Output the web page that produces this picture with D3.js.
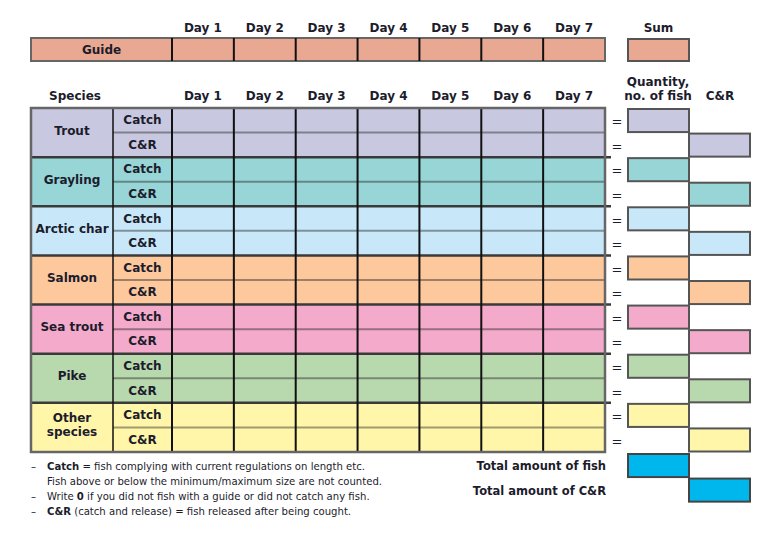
<!DOCTYPE html>
<html><head><meta charset="utf-8">
<script src="https://cdn.jsdelivr.net/npm/d3@7"></script>
<style>
html,body{margin:0;padding:0;background:#fff;}
svg{display:block;font-family:"DejaVu Sans",Verdana,sans-serif;}
</style></head>
<body><svg id="c" width="783" height="551"></svg>
<script>
const days = ["Day 1","Day 2","Day 3","Day 4","Day 5","Day 6","Day 7"];
const species = ["Trout","Grayling","Arctic char","Salmon","Sea trout","Pike","Other species"];
const speciesColors = ["#c9c8e1","#97d5d6","#c8e8fa","#fdc89c","#f4aacb","#b8d9ae","#fff6aa"];
const rowTypes = ["Catch","C&R"];
const guideColor = "#e9a891";
const totalColor = "#00b7ed";
const notes = [
  [{b:"Catch"},{t:" = fish complying with current regulations on length etc."}],
  [{t:"Fish above or below the minimum/maximum size are not counted."}],
  [{t:"Write "},{b:"0"},{t:" if you did not fish with a guide or did not catch any fish."}],
  [{b:"C&R"},{t:" (catch and release) = fish released after being cought."}]
];
const totals = ["Total amount of fish","Total amount of C&R"];

const svg = d3.select("#c");
const ink = "#1c1c2c";
const X0 = 31, XS = 113, XD = 172, XE = 605;
const x = d3.scaleBand().domain(days).range([XD, XE]);
const qX = d3.scaleBand().domain(["qty","cr"]).range([628, 750]);

// ---- Guide row ----
const gy0 = 38, gy1 = 61;
svg.selectAll("text.dh1").data(days).join("text")
  .attr("x", d => x(d) + x.bandwidth()/2).attr("y", 32)
  .attr("text-anchor","middle").attr("font-weight","bold").attr("font-size",12).attr("fill",ink).text(d=>d);
svg.append("text").attr("x", qX("qty")+qX.bandwidth()/2).attr("y",32).attr("text-anchor","middle")
  .attr("font-weight","bold").attr("font-size",12).attr("fill",ink).text("Sum");
svg.append("rect").attr("x",X0).attr("y",gy0).attr("width",XE-X0).attr("height",gy1-gy0)
  .attr("fill",guideColor).attr("stroke","#666").attr("stroke-width",2);
svg.selectAll("line.gv").data(days).join("line")
  .attr("x1",d=>x(d)).attr("x2",d=>x(d)).attr("y1",gy0).attr("y2",gy1)
  .attr("stroke","#111").attr("stroke-width",2);
svg.append("text").attr("x",(X0+XD)/2).attr("y",(gy0+gy1)/2+4.5).attr("text-anchor","middle")
  .attr("font-weight","bold").attr("font-size",12).attr("fill",ink).text("Guide");
svg.append("rect").attr("x",qX("qty")).attr("y",gy0+1).attr("width",qX.bandwidth()).attr("height",gy1-gy0-1)
  .attr("fill",guideColor).attr("stroke","#555").attr("stroke-width",2);

// ---- Species table ----
const ty0 = 108, ty1 = 452;
const rows = [];
species.forEach((s,i)=>rowTypes.forEach(r=>rows.push({s, r, i, key:s+"|"+r})));
const y = d3.scaleBand().domain(rows.map(d=>d.key)).range([ty0, ty1]);
const yS = d3.scaleBand().domain(species).range([ty0, ty1]);
const color = d3.scaleOrdinal().domain(species).range(speciesColors);

// headers
svg.selectAll("text.dh2").data(days).join("text")
  .attr("x", d => x(d) + x.bandwidth()/2).attr("y", 100)
  .attr("text-anchor","middle").attr("font-weight","bold").attr("font-size",12).attr("fill",ink).text(d=>d);
svg.append("text").attr("x",75).attr("y",100).attr("text-anchor","middle")
  .attr("font-weight","bold").attr("font-size",12).attr("fill",ink).text("Species");
svg.append("text").attr("x",658).attr("y",86).attr("text-anchor","middle")
  .attr("font-weight","bold").attr("font-size",12).attr("fill",ink).text("Quantity,");
svg.append("text").attr("x",658).attr("y",100).attr("text-anchor","middle")
  .attr("font-weight","bold").attr("font-size",12).attr("fill",ink).text("no. of fish");
svg.append("text").attr("x",720).attr("y",100).attr("text-anchor","middle")
  .attr("font-weight","bold").attr("font-size",12).attr("fill",ink).text("C&R");

// block fills
svg.selectAll("rect.blk").data(species).join("rect")
  .attr("x",X0).attr("y",d=>yS(d)).attr("width",XE-X0).attr("height",yS.bandwidth())
  .attr("fill",d=>color(d));
// inner Catch/C&R separators
svg.selectAll("line.mid").data(species).join("line")
  .attr("x1",XS).attr("x2",XE).attr("y1",d=>yS(d)+yS.bandwidth()/2).attr("y2",d=>yS(d)+yS.bandwidth()/2)
  .attr("stroke","rgba(40,40,40,0.45)").attr("stroke-width",2);
// block separators
svg.selectAll("line.bsep").data(species.slice(1)).join("line")
  .attr("x1",X0).attr("x2",XE+6).attr("y1",d=>yS(d)).attr("y2",d=>yS(d))
  .attr("stroke","#3a3a3a").attr("stroke-width",2.5);
// vertical lines
svg.selectAll("line.dv").data(days).join("line")
  .attr("x1",d=>x(d)).attr("x2",d=>x(d)).attr("y1",ty0).attr("y2",ty1)
  .attr("stroke","#111").attr("stroke-width",2);
svg.append("line").attr("x1",XS).attr("x2",XS).attr("y1",ty0).attr("y2",ty1)
  .attr("stroke","#111").attr("stroke-width",1.5);
// outer border
svg.append("rect").attr("x",X0).attr("y",ty0).attr("width",XE-X0).attr("height",ty1-ty0)
  .attr("fill","none").attr("stroke","#666").attr("stroke-width",2.5);

// labels
svg.selectAll("text.sp").data(species).join("text")
  .attr("x",(X0+XS)/2).attr("text-anchor","middle").attr("font-weight","bold").attr("font-size",12).attr("fill",ink)
  .each(function(d){
    const cy = yS(d)+yS.bandwidth()/2 - 2.5;
    const parts = d==="Other species" ? ["Other","species"] : [d];
    const t = d3.select(this);
    parts.forEach((p,k)=>t.append("tspan").attr("x",(X0+XS)/2)
      .attr("y", cy + 4.5 + (k - (parts.length-1)/2)*14).text(p));
  });
svg.selectAll("text.rt").data(rows).join("text")
  .attr("x",(XS+XD)/2).attr("y",d=>y(d.key)+y.bandwidth()/2+4).attr("text-anchor","middle")
  .attr("font-weight","bold").attr("font-size",12).attr("fill",ink).text(d=>d.r);

// equals signs
svg.selectAll("text.eq").data(rows).join("text")
  .attr("x",617).attr("y",d=>y(d.key)+y.bandwidth()/2+6).attr("text-anchor","middle")
  .attr("font-size",13).attr("fill",ink).text("=");

// right boxes
svg.selectAll("rect.q").data(rows).join("rect")
  .attr("x",d=>qX(d.r==="Catch"?"qty":"cr")).attr("y",d=>y(d.key)+1)
  .attr("width",qX.bandwidth()).attr("height",y.bandwidth()-1.5)
  .attr("fill",d=>color(d.s)).attr("stroke","#555").attr("stroke-width",2);

// totals
const totY = d3.scaleBand().domain(totals).range([ty1+1, ty1+1+2*y.bandwidth()]);
svg.selectAll("rect.tot").data(totals).join("rect")
  .attr("x",(d,i)=>qX(i===0?"qty":"cr")).attr("y",d=>totY(d)+1)
  .attr("width",qX.bandwidth()).attr("height",totY.bandwidth()-1.5)
  .attr("fill",totalColor).attr("stroke","#444").attr("stroke-width",2);
svg.selectAll("text.tot").data(totals).join("text")
  .attr("x",606).attr("y",d=>totY(d)+totY.bandwidth()/2+5).attr("text-anchor","end")
  .attr("font-weight","bold").attr("font-size",11.5).attr("fill",ink).text(d=>d);

// notes
const noteY = [469.5,484.5,499.5,514.5];
const dash = [true,false,true,true];
notes.forEach((parts,i)=>{
  if(dash[i]) svg.append("text").attr("x",31).attr("y",noteY[i]).attr("font-size",10).attr("fill",ink).text("–");
  const t = svg.append("text").attr("x",47).attr("y",noteY[i]).attr("font-size",10.1).attr("fill",ink);
  parts.forEach(p=>t.append("tspan").attr("font-weight",p.b?"bold":"normal").text(p.b||p.t));
});
</script></body></html>
